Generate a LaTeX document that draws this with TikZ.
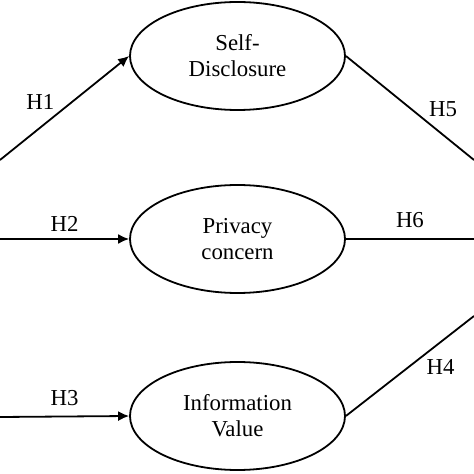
\documentclass[tikz,border=0pt]{standalone}
\usepackage{fontspec}
\setmainfont{Liberation Serif}
\usepackage{tikz}
\usetikzlibrary{arrows,arrows.meta}
\usetikzlibrary{shapes.geometric}
\tikzset{
    ell/.style={ % construct ellipses
        ellipse,
        draw=black,
        line width=1.8pt,
        text centered,
        align=center,
        inner sep=0pt,
        minimum width=215pt,
        minimum height=108pt,
        font=\fontsize{22.8}{26}\selectfont
        },
    hyp/.style={ % path labels
        inner sep=3pt,
        font=\fontsize{22.8}{26}\selectfont
        },
    arrout/.style={
           -{Latex[length=11pt,width=10pt]},
           line width=1.8pt
           },
    ln/.style={
           line width=1.8pt
           }
}
\begin{document}
\begin{tikzpicture}
\useasboundingbox (0pt,0pt) rectangle (474pt,474pt);

%%%%% node n1
\node[ell] (n1) at (237.5pt,418pt) {Self-\\Disclosure};

%%%%% node n2
\node[ell] (n2) at (237.5pt,235pt) {Privacy\\concern};

%%%%% node n3
\node[ell] (n3) at (237.5pt,58pt) {Information\\Value};

%%%%% free ends (cut off at the borders)
\coordinate (s1) at (0pt,314pt);
\coordinate (s2) at (0pt,235pt);
\coordinate (s3) at (0pt,57pt);
\coordinate (t1) at (474pt,314pt);
\coordinate (t2) at (474pt,235pt);
\coordinate (t3) at (474pt,158pt);

%%%%% edge e1
\draw[arrout] (s1) to node[hyp, pos=0.45, above left] (e1) {H1} (n1.west);

%%%%% edge e2
\draw[arrout] (s2) to node[hyp, midway, above=4pt] (e2) {H2} (n2.west);

%%%%% edge e3
\draw[arrout] (s3) to node[hyp, midway, above=7pt] (e3) {H3} (n3.west);

%%%%% edge e5
\draw[ln] (n1.east) to node[hyp, pos=0.62, above right] (e5) {H5} (t1);

%%%%% edge e6
\draw[ln] (n2.east) to node[hyp, midway, above=7pt] (e6) {H6} (t2);

%%%%% edge e4
\draw[ln] (n3.east) to node[hyp, pos=0.6, below right] (e4) {H4} (t3);

\end{tikzpicture}
\end{document}
